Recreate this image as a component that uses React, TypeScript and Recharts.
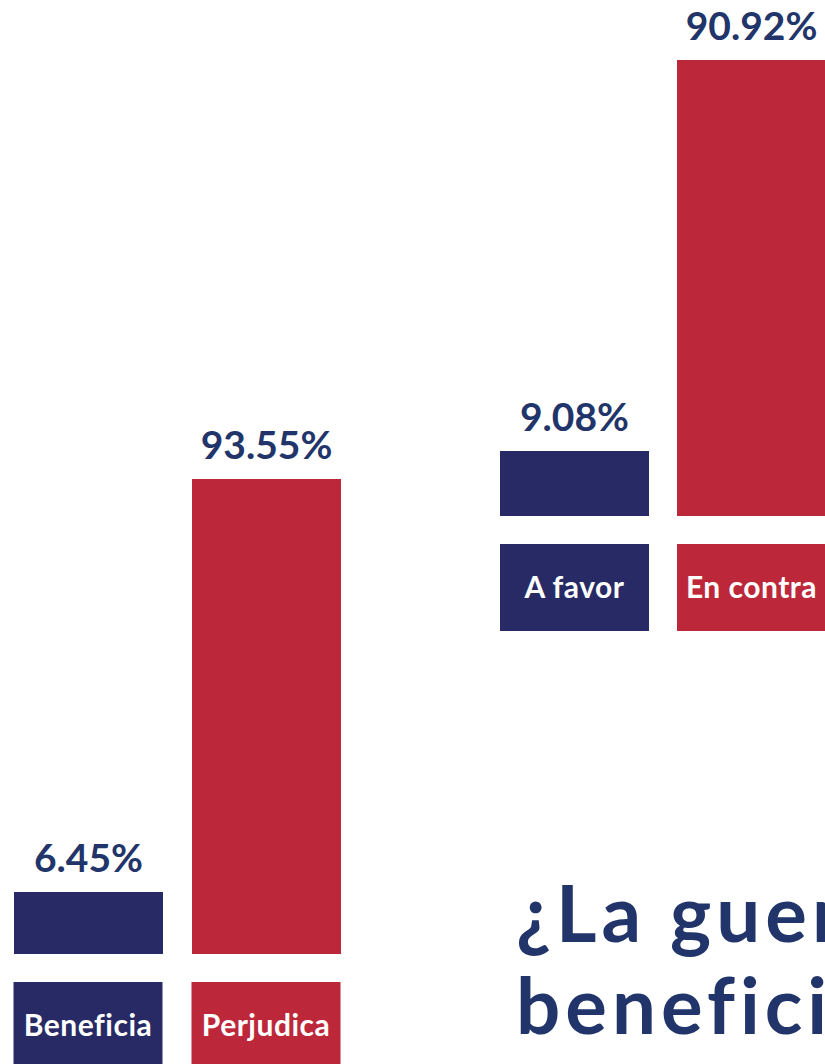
import { BarChart, Bar, XAxis, YAxis, Cell, LabelList } from "recharts"

// ¿Beneficia o perjudica?
const effectCategories = ["Beneficia", "Perjudica"]
const effectValues = [6.45, 93.55]

// ¿A favor o en contra?
const stanceCategories = ["A favor", "En contra"]
const stanceValues = [9.08, 90.92]

const titleLines = ["¿La guerra", "beneficia a"]

const NAVY = "#272a64"
const RED = "#bd273a"
const INK = "#22356a"
const colors = [NAVY, RED]
const FONT = "Lato, 'Open Sans', sans-serif"

const effectData = effectCategories.map((name, i) => ({ name, value: effectValues[i] }))
const stanceData = stanceCategories.map((name, i) => ({ name, value: stanceValues[i] }))

const BoxTick = (props: any) => {
  const { x, y, payload, index } = props
  return (
    <g>
      <rect x={x - 74.5} y={y + 28} width={149} height={87} fill={colors[index % 2]} />
      <text
        x={x}
        y={y + 82}
        textAnchor="middle"
        fill="#ffffff"
        fontSize={30}
        fontWeight={700}
        fontFamily={FONT}
        letterSpacing={0.5}
      >
        {payload.value}
      </text>
    </g>
  )
}

const fmt = (v: any) => `${Number(v).toFixed(2)}%`

const PercentChart = ({ data, base, width, height, top, xHeight }: any) => (
  <BarChart
    width={width}
    height={height}
    data={data}
    margin={{ top, right: 0, bottom: 0, left: 0 }}
    barSize={149}
  >
    <XAxis
      dataKey="name"
      height={xHeight}
      axisLine={false}
      tickLine={false}
      tickSize={0}
      tickMargin={0}
      interval={0}
      tick={<BoxTick />}
    />
    <YAxis hide type="number" domain={[base, 100]} />
    <Bar dataKey={(d: any) => [base, d.value]} isAnimationActive={false}>
      {data.map((d: any, i: number) => (
        <Cell key={d.name} fill={colors[i]} />
      ))}
      <LabelList
        dataKey="value"
        position="top"
        offset={20}
        formatter={fmt}
        fill={INK}
        fontSize={39}
        fontWeight={700}
        fontFamily={FONT}
      />
    </Bar>
  </BarChart>
)

export default function App() {
  return (
    <div
      style={{
        position: "absolute",
        left: 0,
        top: 0,
        width: 825,
        height: 1064,
        overflow: "hidden",
        background: "#ffffff",
      }}
    >
      <div style={{ position: "absolute", left: -1, top: 0 }}>
        <PercentChart data={effectData} base={-6.62} width={356} height={1070} top={448.4} xHeight={116} />
      </div>
      <div style={{ position: "absolute", left: 486, top: 0 }}>
        <PercentChart data={stanceData} base={-4.52} width={354} height={636} top={16.6} xHeight={120} />
      </div>
      <svg width={825} height={1064} style={{ position: "absolute", left: 0, top: 0, pointerEvents: "none" }}>
        <text x={516} y={942} fill={INK} fontSize={78} fontWeight={700} fontFamily={FONT} letterSpacing={5}>
          {titleLines[0]}
        </text>
        <text x={516} y={1034} fill={INK} fontSize={78} fontWeight={700} fontFamily={FONT} letterSpacing={5}>
          {titleLines[1]}
        </text>
      </svg>
    </div>
  )
}
